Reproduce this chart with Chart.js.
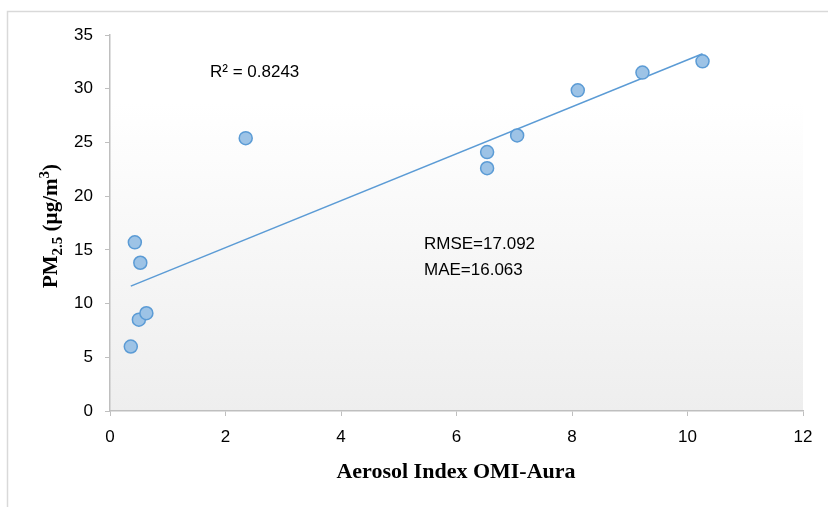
<!DOCTYPE html>
<html>
<head>
<meta charset="utf-8">
<script src="https://cdn.jsdelivr.net/npm/chart.js@4"></script>
<style>
  html, body { margin: 0; padding: 0; background: #fff; }
  #wrap { width: 828px; height: 507px; }
</style>
</head>
<body>
<div id="wrap"><canvas id="chart" width="828" height="507"></canvas></div>
<script>
// values
const aerosolIndex = [0.36, 0.50, 0.63, 0.43, 0.525, 2.35, 6.53, 6.53, 7.05, 8.10, 9.22, 10.26];
const pm25 = [6.0, 8.5, 9.1, 15.7, 13.8, 25.4, 24.1, 22.6, 25.65, 29.85, 31.5, 32.55];
const xTicks = [0, 2, 4, 6, 8, 10, 12];
const yTicks = [0, 5, 10, 15, 20, 25, 30, 35];
const statLabels = ['R\u00B2 = 0.8243', 'RMSE=17.092', 'MAE=16.063'];

const points = aerosolIndex.map((x, i) => ({ x: x, y: pm25[i] }));

// linear trendline (least squares), drawn from min x to max x
const n = points.length;
const mx = aerosolIndex.reduce((a, b) => a + b, 0) / n;
const my = pm25.reduce((a, b) => a + b, 0) / n;
let sxy = 0, sxx = 0;
points.forEach(p => { sxy += (p.x - mx) * (p.y - my); sxx += (p.x - mx) ** 2; });
const slope = sxy / sxx;
const intercept = my - slope * mx;
const xMin = Math.min(...aerosolIndex), xMax = Math.max(...aerosolIndex);
const trend = [
    { x: xMin, y: intercept + slope * xMin },
    { x: xMax, y: intercept + slope * xMax }
];

const tickFont = { family: '"Liberation Sans", Arial, sans-serif', size: 17 };

const decor = {
    id: 'decor',
    beforeDraw(chart) {
        const { ctx, chartArea: a } = chart;
        ctx.save();
        // outer frame
        ctx.strokeStyle = '#d9d9d9';
        ctx.lineWidth = 1.5;
        ctx.strokeRect(7.5, 11.5, 900, 600);
        // plot area gradient
        const g = ctx.createLinearGradient(0, a.top, 0, a.bottom);
        g.addColorStop(0, '#ffffff');
        g.addColorStop(0.18, '#ffffff');
        g.addColorStop(1, '#eeeeee');
        ctx.fillStyle = g;
        ctx.fillRect(a.left, a.top, a.right - a.left, a.bottom - a.top);
        ctx.restore();
    },
    afterDraw(chart) {
        const { ctx } = chart;
        ctx.save();
        ctx.fillStyle = '#000';
        // annotations
        ctx.font = '17px "Liberation Sans", Arial, sans-serif';
        ctx.textBaseline = 'middle';
        ctx.textAlign = 'left';
        ctx.fillText(statLabels[0], 210, 72);
        ctx.fillText(statLabels[1], 424, 244);
        ctx.fillText(statLabels[2], 424, 270);

        // x axis title
        ctx.textBaseline = 'alphabetic';
        ctx.font = 'bold 22px "Liberation Serif", "Times New Roman", serif';
        ctx.textAlign = 'center';
        ctx.fillText('Aerosol Index OMI-Aura', 456, 478);

        // y axis title with subscript / superscript
        const big = 'bold 21px "Liberation Serif", "Times New Roman", serif';
        const small = 'bold 15px "Liberation Serif", "Times New Roman", serif';
        const parts = [
            { t: 'PM', f: big, dy: 0 },
            { t: '2.5', f: small, dy: 5 },
            { t: ' (\u00B5g/m', f: big, dy: 0 },
            { t: '3', f: small, dy: -8 },
            { t: ')', f: big, dy: 0 }
        ];
        let total = 0;
        parts.forEach(p => { ctx.font = p.f; p.w = ctx.measureText(p.t).width; total += p.w; });
        ctx.translate(57, 226);
        ctx.rotate(-Math.PI / 2);
        ctx.textAlign = 'left';
        let x = -total / 2;
        parts.forEach(p => {
            ctx.font = p.f;
            ctx.fillText(p.t, x, p.dy);
            x += p.w;
        });
        ctx.restore();
    }
};

new Chart(document.getElementById('chart'), {
    type: 'scatter',
    data: {
        datasets: [
            {
                label: 'PM2.5',
                data: points,
                backgroundColor: '#9dc3e6',
                borderColor: '#5b9bd5',
                borderWidth: 1.5,
                pointRadius: 6.5,
                order: 1
            },
            {
                type: 'line',
                label: 'Linear trend',
                data: trend,
                borderColor: '#5b9bd5',
                borderWidth: 1.5,
                pointRadius: 0,
                fill: false,
                order: 2
            }
        ]
    },
    options: {
        responsive: false,
        animation: false,
        layout: { padding: { top: 35, right: 25, left: 0, bottom: 0 } },
        plugins: {
            legend: { display: false },
            tooltip: { enabled: false }
        },
        scales: {
            x: {
                type: 'linear',
                min: 0,
                max: 12,
                afterFit: s => { s.height = 96; },
                afterBuildTicks: s => { s.ticks = xTicks.map(v => ({ value: v })); },
                ticks: { font: tickFont, color: '#000', padding: 11 },
                grid: { drawOnChartArea: false, drawTicks: true, tickLength: 5, color: '#bfbfbf' },
                border: { color: '#bfbfbf', width: 1.5 }
            },
            y: {
                type: 'linear',
                min: 0,
                max: 35,
                afterFit: s => { s.width = 110; },
                afterBuildTicks: s => { s.ticks = yTicks.map(v => ({ value: v })); },
                ticks: { font: tickFont, color: '#000', padding: 12 },
                grid: { drawOnChartArea: false, drawTicks: true, tickLength: 5, color: '#bfbfbf' },
                border: { color: '#bfbfbf', width: 1.5 }
            }
        }
    },
    plugins: [decor]
});
</script>
</body>
</html>
